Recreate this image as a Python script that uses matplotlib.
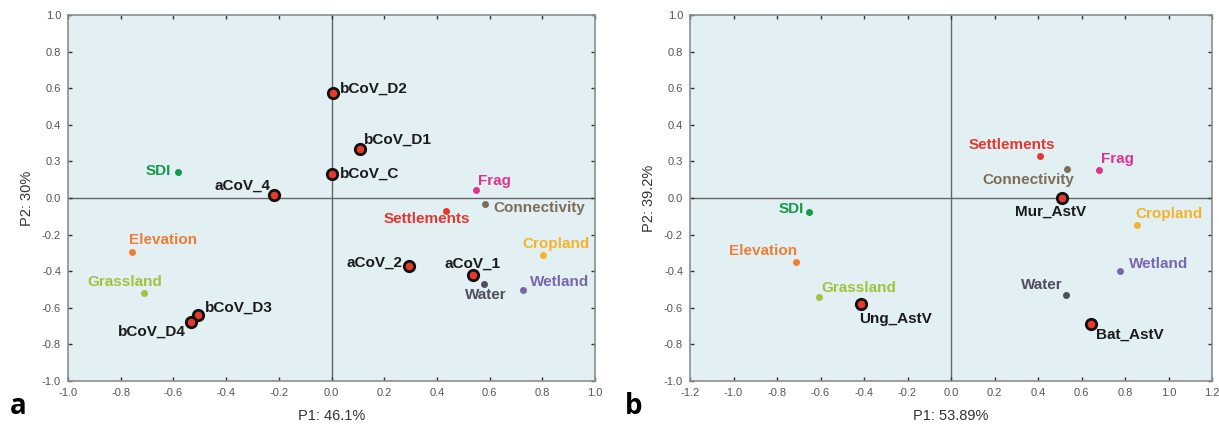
import matplotlib
matplotlib.use("Agg")
import matplotlib.pyplot as plt
from matplotlib.ticker import FixedLocator, FixedFormatter

# ---------------- data ----------------
env_vars = ["SDI", "Elevation", "Grassland", "Frag", "Connectivity",
            "Settlements", "Cropland", "Water", "Wetland"]

# panel a (P1: 46.1%, P2: 30%)
a_env_x = [-0.584, -0.759, -0.711, 0.548, 0.581, 0.435, 0.802, 0.579, 0.727]
a_env_y = [0.140, -0.297, -0.521, 0.042, -0.033, -0.069, -0.310, -0.470, -0.501]
a_virus = ["bCoV_D2", "bCoV_D1", "bCoV_C", "aCoV_4", "bCoV_D3", "bCoV_D4", "aCoV_2", "aCoV_1"]
a_vir_x = [0.006, 0.109, 0.000, -0.217, -0.506, -0.534, 0.293, 0.538]
a_vir_y = [0.572, 0.266, 0.130, 0.015, -0.640, -0.676, -0.372, -0.419]

# panel b (P1: 53.89%, P2: 39.2%)
b_env_x = [-0.651, -0.714, -0.607, 0.680, 0.533, 0.411, 0.857, 0.529, 0.778]
b_env_y = [-0.078, -0.350, -0.539, 0.153, 0.157, 0.228, -0.146, -0.532, -0.397]
b_virus = ["Ung_AstV", "Mur_AstV", "Bat_AstV"]
b_vir_x = [-0.412, 0.512, 0.644]
b_vir_y = [-0.579, 0.000, -0.687]

y_tick_vals = [-1.0, -0.8, -0.6, -0.4, -0.2, 0.0, 0.2, 0.4, 0.6, 0.8, 1.0]
y_tick_labels = ["-1.0", "-0.8", "-0.6", "-0.4", "-0.2", "0.0", "0.3", "0.4", "0.6", "0.8", "1.0"]

# ---------------- styles ----------------
env_colors = {
    "SDI": "#139a4a", "Elevation": "#ef7d35", "Grassland": "#9cc43c",
    "Frag": "#e0338c", "Connectivity": "#7e6d57", "Settlements": "#e3372f",
    "Cropland": "#f4b42a", "Water": "#514c60", "Wetland": "#7a66ae",
}
# label placement: (dx px, dy px, ha)
a_env_pos = {"SDI": (-7, 1, "right"), "Elevation": (-3, 12, "left"),
             "Grassland": (-19, 11, "center"), "Frag": (2, 9, "left"),
             "Connectivity": (9, -4, "left"), "Settlements": (-19, -8, "center"),
             "Cropland": (13, 11, "center"), "Water": (2, -11, "center"),
             "Wetland": (7, 8, "left")}
a_vir_pos = {"bCoV_D2": (7, 5, "left"), "bCoV_D1": (4, 10, "left"),
             "bCoV_C": (8, 0, "left"), "aCoV_4": (-4, 10, "right"),
             "bCoV_D3": (7, 7, "left"), "bCoV_D4": (-5, -10, "right"),
             "aCoV_2": (-6, 3, "right"), "aCoV_1": (-1, 11, "center")}
b_env_pos = {"SDI": (-5, 3, "right"), "Elevation": (1, 11, "right"),
             "Grassland": (2, 9, "left"), "Frag": (2, 11, "left"),
             "Connectivity": (7, -11, "right"), "Settlements": (-29, 11, "center"),
             "Cropland": (-2, 11, "left"), "Water": (-3, 10, "right"),
             "Wetland": (9, 7, "left")}
b_vir_pos = {"Ung_AstV": (-2, -15, "left"), "Mur_AstV": (-12, -14, "center"),
             "Bat_AstV": (5, -11, "left")}

plt.rcParams['font.family'] = ['Liberation Sans', 'DejaVu Sans']
BG = "#e2f0f4"
SP = "#8a8f93"

fig = plt.figure(figsize=(12.19, 4.25), dpi=100)
ax_a = fig.add_axes([68/1219, 44/425, 527/1219, 366/425])
ax_b = fig.add_axes([690/1219, 44/425, 522/1219, 366/425])


def style_axis(ax, xlim, xticks, xlabel, ylabel):
    ax.set_facecolor(BG)
    ax.set_xlim(*xlim)
    ax.set_ylim(-1.0, 1.0)
    ax.set_xticks(xticks)
    ax.set_xticklabels([f"{v:.1f}" for v in xticks])
    ax.yaxis.set_major_locator(FixedLocator(y_tick_vals))
    ax.yaxis.set_major_formatter(FixedFormatter(y_tick_labels))
    ax.tick_params(direction="in", length=3, width=1, color="#333333",
                   top=True, right=True, labelsize=8, labelcolor="#555555", pad=5)
    for s in ax.spines.values():
        s.set_color(SP)
        s.set_linewidth(1.2)
    ax.axhline(0, color="#666666", lw=1, zorder=1)
    ax.axvline(0, color="#666666", lw=1, zorder=1)
    ax.set_xlabel(xlabel, fontsize=10.5, color="#333333", labelpad=8)
    ax.set_ylabel(ylabel, fontsize=10.5, color="#333333", labelpad=6)


def draw(ax, ex, ey, epos, vnames, vx, vy, vpos):
    for name, x, y in zip(env_vars, ex, ey):
        c = env_colors[name]
        ax.plot(x, y, "o", ms=4, color=c, mec=c, zorder=3)
        dx, dy, ha = epos[name]
        ax.annotate(name, (x, y), xytext=(dx, dy), textcoords="offset pixels",
                    ha=ha, va="center", fontsize=11, fontweight="bold", color=c, zorder=4)
    for name, x, y in zip(vnames, vx, vy):
        ax.plot(x, y, "o", ms=7.5, color="#e53a2d", mec="#111111", mew=2.0, zorder=5)
        dx, dy, ha = vpos[name]
        ax.annotate(name, (x, y), xytext=(dx, dy), textcoords="offset pixels",
                    ha=ha, va="center", fontsize=11, fontweight="bold", color="#1a1a1a", zorder=6)


style_axis(ax_a, (-1.0, 1.0), [-1.0, -0.8, -0.6, -0.4, -0.2, 0.0, 0.2, 0.4, 0.6, 0.8, 1.0],
           "P1: 46.1%", "P2: 30%")
draw(ax_a, a_env_x, a_env_y, a_env_pos, a_virus, a_vir_x, a_vir_y, a_vir_pos)

style_axis(ax_b, (-1.2, 1.2), [-1.2, -1.0, -0.8, -0.6, -0.4, -0.2, 0.0, 0.2, 0.4, 0.6, 0.8, 1.0, 1.2],
           "P1: 53.89%", "P2: 39.2%")
draw(ax_b, b_env_x, b_env_y, b_env_pos, b_virus, b_vir_x, b_vir_y, b_vir_pos)

fig.text(10/1219, 1 - 407/425, "a", fontsize=20, fontweight="bold", va="center", ha="left",
         family=["Open Sans", "DejaVu Sans"])
fig.text(625/1219, 1 - 407/425, "b", fontsize=20, fontweight="bold", va="center", ha="left",
         family=["Open Sans", "DejaVu Sans"])

fig.savefig("out.png", dpi=100, facecolor="white")
